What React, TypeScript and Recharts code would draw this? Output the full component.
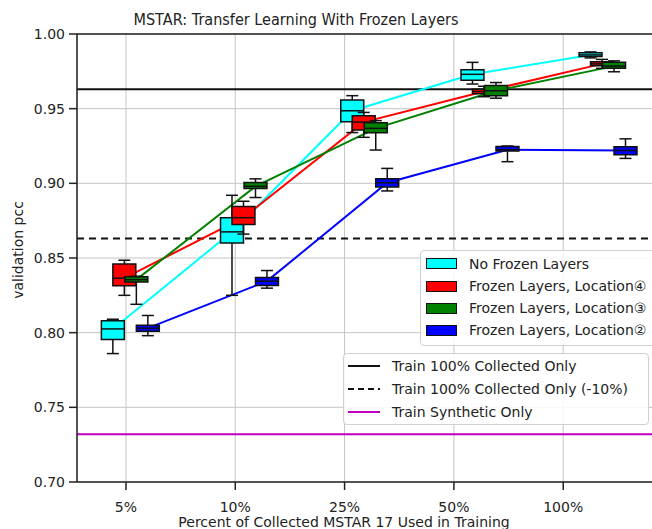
import { ComposedChart, Line, XAxis, YAxis, CartesianGrid, ReferenceLine, ReferenceArea } from "recharts"

const categories = ["5%", "10%", "25%", "50%", "100%"]
const tickPositions = [1, 2, 3, 4, 5]
const yTicks = [0.7, 0.75, 0.8, 0.85, 0.9, 0.95, 1.0]

// where each group of boxes sits on the x axis, and the shift of each series inside a group
const groupPositions = [0.88, 1.97, 3.07, 4.17, 5.25]
const seriesShift = [0, 0.105, 0.215, 0.32]

// [low whisker, q1, median, q3, high whisker] per category
const noFrozen = [
  [0.786, 0.7955, 0.8025, 0.808, 0.809],
  [0.825, 0.86, 0.8675, 0.877, 0.892],
  [0.934, 0.9413, 0.9486, 0.9558, 0.9587],
  [0.9665, 0.969, 0.973, 0.976, 0.981],
  [0.984, 0.985, 0.986, 0.9875, 0.988],
]
const frozenLoc4 = [
  [0.825, 0.8315, 0.8365, 0.846, 0.8485],
  [0.866, 0.8725, 0.877, 0.8845, 0.888],
  [0.9308, 0.9357, 0.941, 0.9453, 0.9475],
  [0.958, 0.96, 0.9615, 0.963, 0.965],
  [0.977, 0.9787, 0.98, 0.9815, 0.983],
]
const frozenLoc3 = [
  [0.819, 0.834, 0.8355, 0.8375, 0.8378],
  [0.8905, 0.8965, 0.898, 0.9005, 0.903],
  [0.9223, 0.9339, 0.9368, 0.9406, 0.942],
  [0.957, 0.9587, 0.962, 0.9655, 0.9675],
  [0.9747, 0.977, 0.9785, 0.981, 0.982],
]
const frozenLoc2 = [
  [0.798, 0.801, 0.803, 0.805, 0.8115],
  [0.8298, 0.8316, 0.8345, 0.837, 0.8416],
  [0.8949, 0.8976, 0.9004, 0.9031, 0.91],
  [0.9145, 0.9216, 0.9225, 0.9247, 0.925],
  [0.9167, 0.9191, 0.922, 0.9245, 0.9298],
]

const seriesNames = ["No Frozen Layers", "Frozen Layers, Location④", "Frozen Layers, Location③", "Frozen Layers, Location②"]
const seriesValues = [noFrozen, frozenLoc4, frozenLoc3, frozenLoc2]

const collectedOnly = 0.963
const collectedMinus10 = 0.863
const syntheticOnly = 0.732
const baselineNames = ["Train 100% Collected Only", "Train 100% Collected Only (-10%)", "Train Synthetic Only"]

const colors = ["#00ffff", "#ff0000", "#008000", "#0000ff"]
const font = "DejaVu Sans"
const textColor = "#222"
const boxHalf = 0.105
const capHalf = 0.055

function renderBoxes(s: number) {
  const edge = { stroke: "#111", strokeWidth: 1.5 }
  return seriesValues[s].map((v, i) => {
    const x = groupPositions[i] + seriesShift[s]
    const [lo, q1, med, q3, hi] = v
    const z = 600 + s * 10
    return [
      <ReferenceLine key={`wl${s}${i}`} segment={[{ x, y: lo }, { x, y: q1 }]} {...edge} zIndex={z} />,
      <ReferenceLine key={`wh${s}${i}`} segment={[{ x, y: q3 }, { x, y: hi }]} {...edge} zIndex={z} />,
      <ReferenceLine key={`cl${s}${i}`} segment={[{ x: x - capHalf, y: lo }, { x: x + capHalf, y: lo }]} {...edge} zIndex={z} />,
      <ReferenceLine key={`ch${s}${i}`} segment={[{ x: x - capHalf, y: hi }, { x: x + capHalf, y: hi }]} {...edge} zIndex={z} />,
      <ReferenceArea
        key={`b${s}${i}`}
        x1={x - boxHalf}
        x2={x + boxHalf}
        y1={q1}
        y2={q3}
        fill={colors[s]}
        fillOpacity={1}
        {...edge}
        zIndex={z + 1}
      />,
      <ReferenceLine key={`m${s}${i}`} segment={[{ x: x - boxHalf, y: med }, { x: x + boxHalf, y: med }]} {...edge} zIndex={z + 2} />,
    ]
  })
}

function Legends() {
  const box = {
    position: "absolute" as const,
    background: "rgba(255,255,255,0.85)",
    border: "1px solid #d0d0d0",
    borderRadius: 4,
    fontFamily: font,
    fontSize: 14,
    color: textColor,
  }
  const row = (top: number, left: number) => ({
    position: "absolute" as const,
    top: top - 9,
    left,
    height: 18,
    lineHeight: "18px",
    whiteSpace: "nowrap" as const,
  })
  const seriesRows = [12.7, 35, 57.3, 79.3]
  const baseRows = [12, 34.7, 57.7]
  const lineStyles = [
    { stroke: "#111", dash: undefined },
    { stroke: "#111", dash: "6 4" },
    { stroke: "#bf00bf", dash: undefined },
  ]
  return (
    <>
      <div style={{ ...box, left: 420, top: 250, width: 262, height: 94 }}>
        {seriesNames.map((n, i) => (
          <div key={n}>
            <div
              style={{
                position: "absolute",
                left: 5,
                top: seriesRows[i] - 5.5,
                width: 29,
                height: 9,
                background: colors[i],
                border: "1px solid #111",
              }}
            />
            <div style={row(seriesRows[i], 48)}>{n}</div>
          </div>
        ))}
      </div>
      <div style={{ ...box, left: 343, top: 353, width: 304, height: 70 }}>
        {baselineNames.map((n, i) => (
          <div key={n}>
            <svg style={{ position: "absolute", left: 4, top: baseRows[i] - 5 }} width={34} height={10}>
              <line x1={0} x2={32} y1={5} y2={5} stroke={lineStyles[i].stroke} strokeWidth={2} strokeDasharray={lineStyles[i].dash} />
            </svg>
            <div style={row(baseRows[i], 48)}>{n}</div>
          </div>
        ))}
      </div>
    </>
  )
}

export default function App() {
  return (
    <div style={{ position: "absolute", left: 0, top: 0, width: 652, height: 529, overflow: "hidden", background: "#fff" }}>
      <ComposedChart width={700} height={529} margin={{ top: 34, right: 30, bottom: 7, left: 17 }}>
        <CartesianGrid stroke="#c4c4c4" strokeWidth={1} />
        <XAxis
          type="number"
          dataKey="x"
          domain={[0.552, 5.977]}
          allowDataOverflow
          ticks={tickPositions}
          tickFormatter={(v: number) => categories[tickPositions.indexOf(v)]}
          height={40}
          tickSize={8}
          tickMargin={12}
          stroke={textColor}
          strokeWidth={1.5}
          tick={{ fontSize: 14, fill: textColor, fontFamily: font }}
        />
        <YAxis
          type="number"
          domain={[0.7, 1.0]}
          ticks={yTicks}
          tickFormatter={(v: number) => v.toFixed(2)}
          width={60}
          tickSize={8}
          tickMargin={4}
          stroke={textColor}
          strokeWidth={1.5}
          tick={{ fontSize: 14, fill: textColor, fontFamily: font }}
        />
        <ReferenceLine y={1.0} stroke={textColor} strokeWidth={1.5} />
        <ReferenceLine y={collectedOnly} stroke="#111" strokeWidth={2} zIndex={350} />
        <ReferenceLine y={collectedMinus10} stroke="#111" strokeWidth={2} strokeDasharray="7 5" zIndex={350} />
        <ReferenceLine y={syntheticOnly} stroke="#bf00bf" strokeWidth={2} zIndex={350} />
        {seriesValues.map((vals, s) => (
          <Line
            key={seriesNames[s]}
            data={vals.map((v, i) => ({ x: groupPositions[i] + seriesShift[s], y: v[2] }))}
            dataKey="y"
            type="linear"
            stroke={colors[s]}
            strokeWidth={2}
            dot={false}
            activeDot={false}
            isAnimationActive={false}
            zIndex={400}
          />
        ))}
        {seriesValues.map((_, s) => renderBoxes(s))}
      </ComposedChart>
      <svg style={{ position: "absolute", left: 0, top: 0 }} width={652} height={529}>
        <text
          x={296}
          y={25}
          textAnchor="middle"
          fontFamily={font}
          fontSize={16}
          fill={textColor}
          textLength={325}
          lengthAdjust="spacingAndGlyphs"
        >
          MSTAR: Transfer Learning With Frozen Layers
        </text>
        <text x={344} y={527} textAnchor="middle" fontFamily={font} fontSize={14} fill={textColor}>
          Percent of Collected MSTAR 17 Used in Training
        </text>
        <text
          x={23}
          y={250}
          textAnchor="middle"
          fontFamily={font}
          fontSize={14}
          fill={textColor}
          transform="rotate(-90, 23, 250)"
        >
          validation pcc
        </text>
      </svg>
      <Legends />
    </div>
  )
}
